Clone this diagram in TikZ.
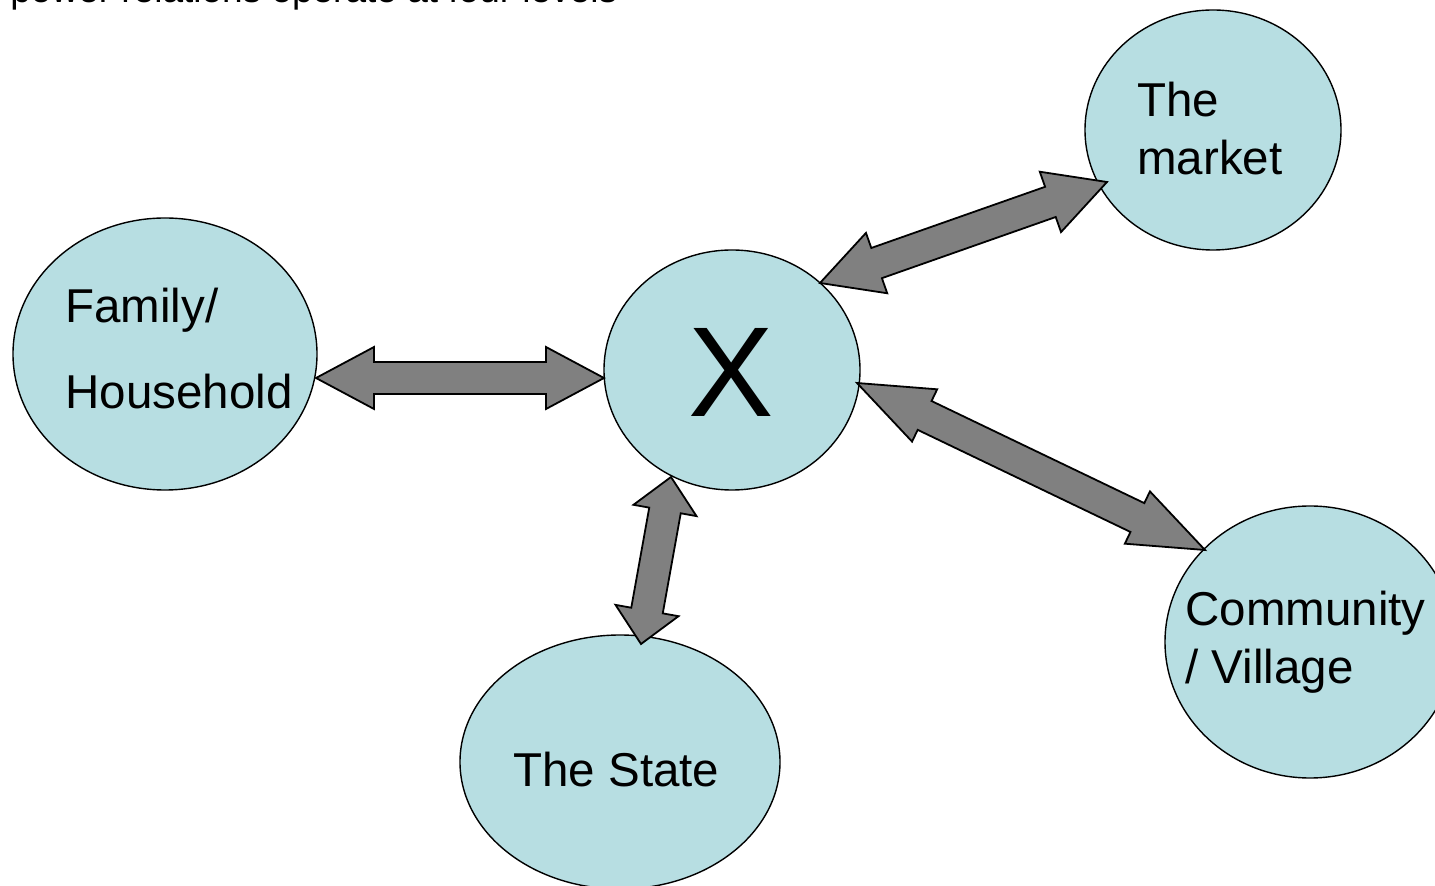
\documentclass[tikz,border=0pt]{standalone}
\usepackage{fontspec}
\setmainfont{Liberation Sans}
\usetikzlibrary{shapes.geometric,calc}
\definecolor{bubble}{HTML}{B7DEE2}
\definecolor{arrowgray}{HTML}{808080}
\tikzset{
  bubble/.style={ellipse, draw=black, line width=0.7pt, fill=bubble, inner sep=0pt},
  lbl/.style={anchor=base west, inner sep=0pt, font=\fontsize{23.75pt}{28pt}\selectfont},
  blockarrow/.style={draw=black, line width=0.9pt, fill=arrowgray, line join=miter}
}
\newcommand{\swid}{8pt}
% #1 start, #2 end, #3 head length, #4 head half-width
\newcommand{\dblarrow}[4]{%
\draw[blockarrow] (#1)
 -- ($(#1)!#3!(#2)!#4!90:(#2)$)
 -- ($(#1)!#3!(#2)!\swid!90:(#2)$)
 -- ($(#2)!#3!(#1)!\swid!-90:(#1)$)
 -- ($(#2)!#3!(#1)!#4!-90:(#1)$)
 -- (#2)
 -- ($(#2)!#3!(#1)!#4!90:(#1)$)
 -- ($(#2)!#3!(#1)!\swid!90:(#1)$)
 -- ($(#1)!#3!(#2)!\swid!-90:(#2)$)
 -- ($(#1)!#3!(#2)!#4!-90:(#2)$)
 -- cycle;}
\begin{document}
\begin{tikzpicture}[x=0.5pt,y=-0.5pt]
\useasboundingbox (0,0) rectangle (1435,886);
\clip (0,0) rectangle (1435,886);
\fill[white] (0,0) rectangle (1435,886);

\node[anchor=base west, inner sep=0pt, font=\fontsize{18.5pt}{22pt}\selectfont] (title) at (10,3) {power relations operate at four levels};

\node[bubble, minimum width=152pt, minimum height=136pt] (fam) at (165,354) {};
\node[bubble, minimum width=128pt, minimum height=120pt] (x) at (732,370) {};
\node[bubble, minimum width=128pt, minimum height=120pt] (mkt) at (1213,130) {};
\node[bubble, minimum width=160pt, minimum height=127pt] (state) at (620,762) {};
\node[bubble, minimum width=145pt, minimum height=136pt] (comm) at (1310,642) {};

\node[lbl] (fam1) at (65,323) {Family/};
\node[lbl] (fam2) at (65,409) {Household};
\node[anchor=base, inner sep=0pt, font=\fontsize{64pt}{70pt}\selectfont] (xl) at (731,417) {X};
\node[lbl] (mkt1) at (1137,117) {The};
\node[lbl] (mkt2) at (1137,175) {market};
\node[lbl] (state1) at (513,787) {The State};
\node[lbl] (comm1) at (1185,626) {Community};
\node[lbl] (comm2) at (1185,684) {/ Village};

\coordinate (fx1) at (316,378);
\coordinate (fx2) at (604,378);
\coordinate (mx1) at (820,283);
\coordinate (mx2) at (1107,182);
\coordinate (sx1) at (671,477);
\coordinate (sx2) at (641,644);
\coordinate (cx1) at (857,383);
\coordinate (cx2) at (1205,550);

\dblarrow{fx1}{fx2}{29pt}{15.5pt}
\dblarrow{mx1}{mx2}{30pt}{16pt}
\dblarrow{sx1}{sx2}{17pt}{16pt}
\dblarrow{cx1}{cx2}{37.5pt}{14.5pt}
\end{tikzpicture}
\end{document}
